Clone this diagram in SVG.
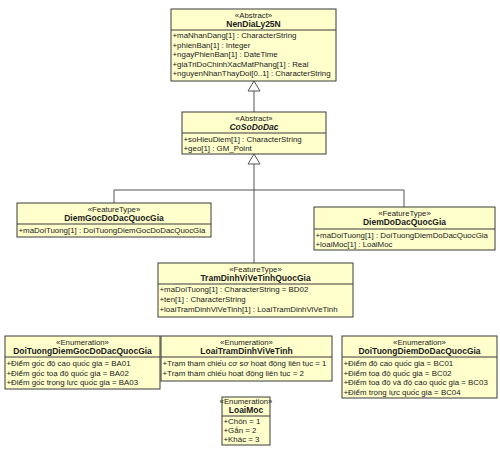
<svg xmlns="http://www.w3.org/2000/svg" width="500" height="450" viewBox="0 0 500 450">
<style>
.box{fill:#FFFFCC;stroke:#3a3a3a;stroke-width:1}
.div{stroke:#3a3a3a;stroke-width:1}
text{font-family:"Liberation Sans",Arial,sans-serif;fill:#1a1a1a}
.st{font-size:7.8px;text-anchor:middle}
.nm{font-size:8.5px;font-weight:bold;text-anchor:middle}
.it{font-style:italic}
.at{font-size:7.9px}
.con{stroke:#555;stroke-width:1;fill:none}
.tri{fill:#fff;stroke:#555;stroke-width:1}
</style>
<rect width="500" height="450" fill="#fff"/>
<g id="connectors">
<line class="con" x1="254" y1="91" x2="254" y2="112"/>
<polygon class="tri" points="254,81 248,91 260,91"/>
<polyline class="con" points="254,163 254,263"/>
<polyline class="con" points="114,203 114,190 404,190 404,207"/>
<polygon class="tri" points="254,154 248,164 260,164"/>
</g>
<g id="NenDiaLy25N">
<rect class="box" x="171" y="9" width="165" height="72"/>
<line class="div" x1="171" y1="30" x2="336" y2="30"/>
<text class="st" x="253.5" y="18">«Abstract»</text>
<text class="nm" x="253.5" y="27">NenDiaLy25N</text>
<text class="at" x="172.5" y="38">+maNhanDang[1] : CharacterString</text>
<text class="at" x="172.5" y="47.5">+phienBan[1] : Integer</text>
<text class="at" x="172.5" y="57">+ngayPhienBan[1] : DateTime</text>
<text class="at" x="172.5" y="66.5">+giaTriDoChinhXacMatPhang[1] : Real</text>
<text class="at" x="172.5" y="76">+nguyenNhanThayDoi[0..1] : CharacterString</text>
</g>
<g id="CoSoDoDac">
<rect class="box" x="182" y="112" width="144" height="42"/>
<line class="div" x1="182" y1="133" x2="326" y2="133"/>
<text class="st" x="254" y="121">«Abstract»</text>
<text class="nm it" x="254" y="130">CoSoDoDac</text>
<text class="at" x="183.5" y="142">+soHieuDiem[1] : CharacterString</text>
<text class="at" x="183.5" y="151">+geo[1] : GM_Point</text>
</g>
<g id="DiemGocDoDacQuocGia">
<rect class="box" x="17" y="203" width="194" height="34"/>
<line class="div" x1="17" y1="224" x2="211" y2="224"/>
<text class="st" x="114" y="212">«FeatureType»</text>
<text class="nm" x="114" y="221">DiemGocDoDacQuocGia</text>
<text class="at" x="18.5" y="233">+maDoiTuong[1] : DoiTuongDiemGocDoDacQuocGia</text>
</g>
<g id="DiemDoDacQuocGia">
<rect class="box" x="314" y="207" width="181" height="43"/>
<line class="div" x1="314" y1="229" x2="495" y2="229"/>
<text class="st" x="404.5" y="216">«FeatureType»</text>
<text class="nm" x="404.5" y="225">DiemDoDacQuocGia</text>
<text class="at" x="315.5" y="238">+maDoiTuong[1] : DoiTuongDiemDoDacQuocGia</text>
<text class="at" x="315.5" y="247">+loaiMoc[1] : LoaiMoc</text>
</g>
<g id="TramDinhViVeTinhQuocGia">
<rect class="box" x="158" y="263" width="195" height="54"/>
<line class="div" x1="158" y1="284" x2="353" y2="284"/>
<text class="st" x="255.5" y="272">«FeatureType»</text>
<text class="nm" x="255.5" y="281">TramDinhViVeTinhQuocGia</text>
<text class="at" x="159.5" y="292">+maDoiTuong[1] : CharacterString = BD02</text>
<text class="at" x="159.5" y="302">+ten[1] : CharacterString</text>
<text class="at" x="159.5" y="312">+loaiTramDinhViVeTinh[1] : LoaiTramDinhViVeTinh</text>
</g>
<g id="DoiTuongDiemGocDoDacQuocGia">
<rect class="box" x="5" y="336" width="155" height="53"/>
<line class="div" x1="5" y1="357" x2="160" y2="357"/>
<text class="st" x="82.5" y="345">«Enumeration»</text>
<text class="nm" x="82.5" y="354">DoiTuongDiemGocDoDacQuocGia</text>
<text class="at" x="6.5" y="366">+Điểm gốc độ cao quốc gia = BA01</text>
<text class="at" x="6.5" y="375.5">+Điểm gốc toạ độ quốc gia = BA02</text>
<text class="at" x="6.5" y="385">+Điểm gốc trọng lực quốc gia = BA03</text>
</g>
<g id="LoaiTramDinhViVeTinh">
<rect class="box" x="161" y="336" width="171" height="45"/>
<line class="div" x1="161" y1="357" x2="332" y2="357"/>
<text class="st" x="246.5" y="345">«Enumeration»</text>
<text class="nm" x="246.5" y="354">LoaiTramDinhViVeTinh</text>
<text class="at" x="162.5" y="366">+Trạm tham chiếu cơ sơ hoạt động liên tục = 1</text>
<text class="at" x="162.5" y="375.5">+Trạm tham chiếu hoạt động liên tục = 2</text>
</g>
<g id="DoiTuongDiemDoDacQuocGia">
<rect class="box" x="342" y="336" width="155" height="62"/>
<line class="div" x1="342" y1="357" x2="497" y2="357"/>
<text class="st" x="419.5" y="345">«Enumeration»</text>
<text class="nm" x="419.5" y="354">DoiTuongDiemDoDacQuocGia</text>
<text class="at" x="343.5" y="366">+Điểm độ cao quốc gia = BC01</text>
<text class="at" x="343.5" y="375.5">+Điểm toạ độ quốc gia = BC02</text>
<text class="at" x="343.5" y="385">+Điểm toạ độ và độ cao quốc gia = BC03</text>
<text class="at" x="343.5" y="394.5">+Điểm trọng lực quốc gia = BC04</text>
</g>
<g id="LoaiMoc">
<rect class="box" x="222" y="397" width="48" height="48"/>
<line class="div" x1="222" y1="416" x2="270" y2="416"/>
<text class="st" x="246" y="404">«Enumeration»</text>
<text class="nm" x="246" y="413">LoaiMoc</text>
<text class="at" x="223.5" y="424">+Chôn = 1</text>
<text class="at" x="223.5" y="433">+Gắn = 2</text>
<text class="at" x="223.5" y="442">+Khác = 3</text>
</g>
</svg>
